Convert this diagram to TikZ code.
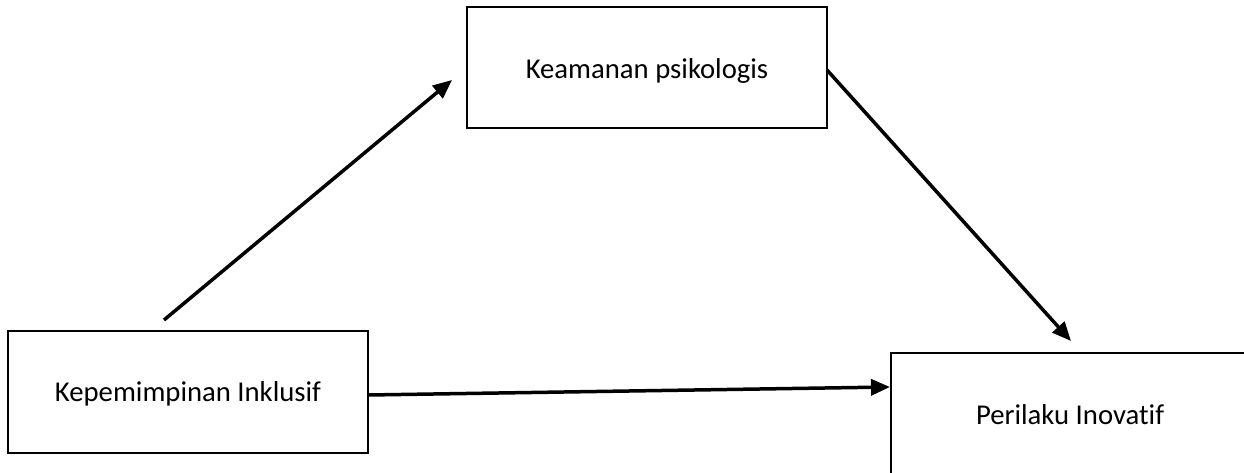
\documentclass[tikz,border=0pt]{standalone}
\usepackage{fontspec}
\setmainfont[Ligatures=NoCommon]{Carlito}
\usetikzlibrary{arrows.meta}
\tikzset{
  varbox/.style={draw=black, line width=2.4pt, fill=white, inner sep=0pt,
    font=\fontsize{28.7}{34}\selectfont},
  path arrow/.style={draw=black, line width=3.5pt,
    -{Triangle[length=19pt, width=16pt]}}
}
\begin{document}
\begin{tikzpicture}[x=1pt, y=-1pt]
  \useasboundingbox (0,0) rectangle (1244,473);
  \clip (0,0) rectangle (1244,473);

  % the three variables
  \node[varbox, minimum width=360pt, minimum height=121pt,
        text height=27pt, text depth=5pt] (psy) at (647,67.5) {Keamanan psikologis};
  \node[varbox, minimum width=360pt, minimum height=122pt,
        text height=24pt, text depth=5pt] (lead) at (188,392) {Kepemimpinan Inklusif};
  \node[varbox, minimum width=358pt, minimum height=124pt] (inno) at (1070,415) {Perilaku Inovatif};

  % loose arrow ends
  \coordinate (a1s) at (164,320);
  \coordinate (a1e) at (452,80);
  \coordinate (a2s) at (827,70);
  \coordinate (a2e) at (1071,341);
  \coordinate (a3s) at (368,395);
  \coordinate (a3e) at (890,387);

  % paths
  \draw[path arrow] (a1s) -- (a1e);
  \draw[path arrow] (a2s) -- (a2e);
  \draw[path arrow] (a3s) -- (a3e);
\end{tikzpicture}
\end{document}
